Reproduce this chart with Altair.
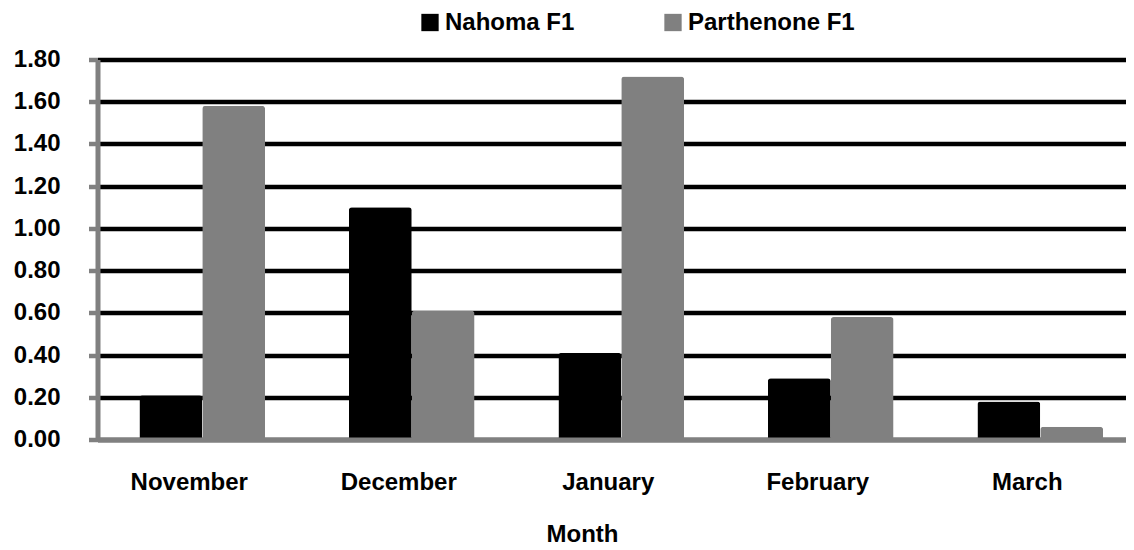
import altair as alt
import pandas as pd

months = ["November", "December", "January", "February", "March"]
series = ["Nahoma F1", "Parthenone F1"]
nahoma = [0.21, 1.10, 0.41, 0.29, 0.18]
parthenone = [1.58, 0.61, 1.72, 0.58, 0.06]
y_ticks = [0.0, 0.2, 0.4, 0.6, 0.8, 1.0, 1.2, 1.4, 1.6, 1.8]
colors = ["#000000", "#808080"]

rows = []
for m, a, b in zip(months, nahoma, parthenone):
    rows.append({"Month": m, "Series": series[0], "Value": a})
    rows.append({"Month": m, "Series": series[1], "Value": b})
df = pd.DataFrame(rows)

FONT = "Liberation Sans"

chart = alt.Chart(df).mark_bar(
    cornerRadiusTopLeft=3, cornerRadiusTopRight=3
).encode(
    x=alt.X(
        "Month:N", sort=months,
        scale=alt.Scale(paddingInner=0.4, paddingOuter=0.2, range=[0, 1047.5]),
        axis=alt.Axis(
            title="Month", labelAngle=0, labelFont=FONT, labelFontSize=24,
            labelFontWeight="bold", labelColor="black", labelPadding=31,
            labelOffset=-13, labelBaseline="top", ticks=False,
            domainColor="#808080", domainWidth=5, grid=False, zindex=1,
            titleFont=FONT, titleFontSize=24, titleFontWeight="bold",
            titleColor="black", titleX=484.5, titleY=83,
            titleAlign="center", titleBaseline="top",
        ),
    ),
    xOffset=alt.XOffset("Series:N", sort=series),
    y=alt.Y(
        "Value:Q",
        scale=alt.Scale(domain=[0, 1.8], nice=False),
        axis=alt.Axis(
            title=None, values=y_ticks, format=".2f", grid=True,
            gridColor="black", gridWidth=4.5, domainColor="#808080",
            domainWidth=5, tickColor="#808080", tickWidth=4.5, tickSize=9,
            labelPadding=28.5, labelFont=FONT, labelFontSize=24,
            labelFontWeight="bold", labelColor="black", zindex=0,
        ),
    ),
    color=alt.Color(
        "Series:N", sort=series,
        scale=alt.Scale(domain=series, range=colors),
        legend=alt.Legend(
            orient="none", legendX=320.5, legendY=-49, direction="horizontal",
            title=None, symbolType="square", symbolSize=300,
            symbolStrokeWidth=0, symbolOpacity=1, labelFont=FONT,
            labelFontSize=24, labelFontWeight="bold", labelColor="black",
            labelOffset=3, columnPadding=86, padding=0, labelLimit=400,
        ),
    ),
).properties(
    width=1028.5, height=380,
    autosize=alt.AutoSizeParams(type="none"),
    padding={"left": 89.5, "top": 51.5, "right": 0, "bottom": 110.5},
).configure_view(stroke=None)

chart.save("out.html", embed_options={"renderer": "svg", "actions": False})
